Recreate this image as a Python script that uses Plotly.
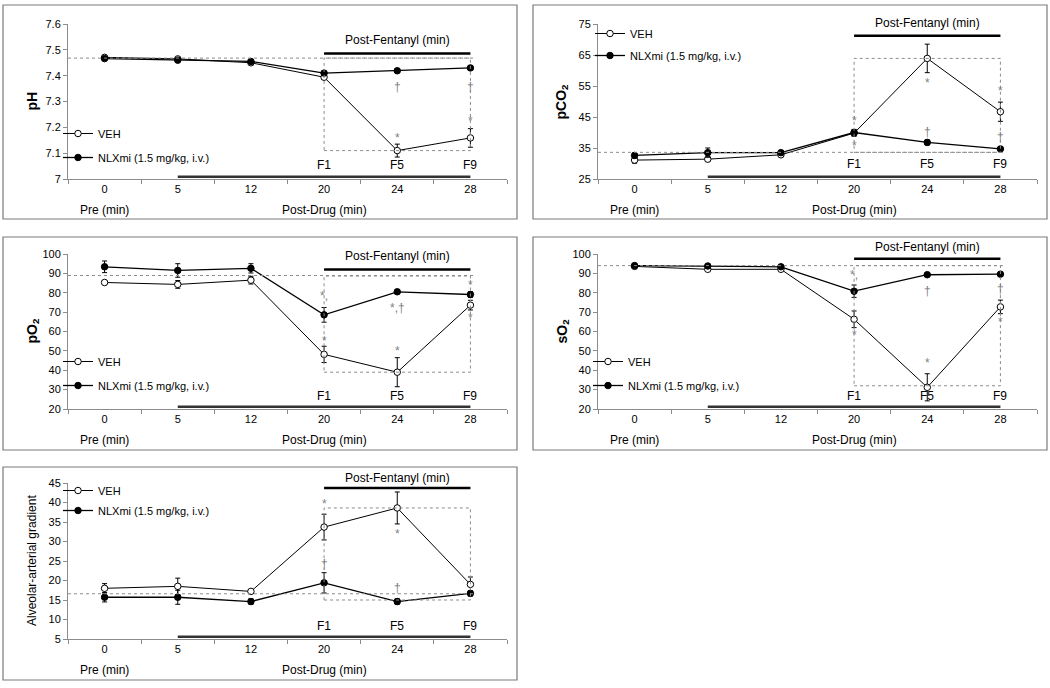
import plotly.graph_objects as go

CATEGORIES = ["0", "5", "12", "20", "24", "28"]
VEH_NAME = "VEH"
NLX_NAME = "NLXmi (1.5 mg/kg, i.v.)"

# ---- pH ----
ph_veh = [7.471, 7.465, 7.450, 7.394, 7.110, 7.159]
ph_veh_err = [0.004, 0.004, 0.004, 0.008, 0.025, 0.036]
ph_nlx = [7.466, 7.460, 7.455, 7.410, 7.419, 7.430]
ph_nlx_err = [0.004, 0.004, 0.004, 0.006, 0.006, 0.006]
ph_baseline = 7.468
ph_box = [7.110, 7.468]
ph_marks = [("24", 7.356, "†"), ("28", 7.356, "†"), ("24", 7.171, "*"), ("28", 7.235, "*")]

# ---- pCO2 ----
pco2_veh = [31.1, 31.4, 32.8, 39.8, 63.9, 46.7]
pco2_veh_err = [1.0, 0.8, 0.5, 1.0, 4.6, 3.1]
pco2_nlx = [32.6, 33.5, 33.5, 40.0, 36.8, 34.7]
pco2_nlx_err = [0.8, 1.5, 0.5, 1.0, 0.8, 0.6]
pco2_baseline = 33.6
pco2_box = [33.6, 63.9]
pco2_marks = [("20", 44.6, "*"), ("20", 36.7, "*"), ("24", 57.0, "*"), ("28", 54.3, "*"),
              ("24", 40.3, "†"), ("28", 38.7, "†")]

# ---- pO2 ----
po2_veh = [85.3, 84.3, 86.5, 48.2, 39.0, 73.6]
po2_veh_err = [1.0, 2.0, 2.0, 4.2, 7.5, 2.5]
po2_nlx = [93.4, 91.5, 92.6, 68.6, 80.5, 79.1]
po2_nlx_err = [3.0, 3.5, 2.4, 3.8, 1.0, 1.5]
po2_baseline = 88.9
po2_box = [39.0, 88.6]
po2_marks = [("20", 80.1, "*,"), ("20", 56.6, "*"), ("24", 73.9, "*,†"), ("24", 51.5, "*"),
             ("28", 85.7, "*"), ("28", 68.4, "*")]

# ---- sO2 ----
so2_veh = [93.6, 92.1, 92.1, 66.3, 31.2, 72.7]
so2_veh_err = [0.5, 0.6, 0.6, 4.3, 7.0, 3.5]
so2_nlx = [94.0, 93.8, 93.4, 80.8, 89.3, 89.6]
so2_nlx_err = [0.4, 0.4, 0.4, 3.2, 0.6, 0.6]
so2_baseline = 94.0
so2_box = [32.0, 94.0]
so2_marks = [("20", 90.8, "*,"), ("20", 59.8, "*"), ("24", 45.2, "*"), ("24", 80.8, "†"),
             ("28", 81.9, "†"), ("28", 66.3, "*")]

# ---- Alveolar-arterial gradient ----
aa_veh = [18.0, 18.5, 17.2, 33.7, 38.6, 19.0]
aa_veh_err = [1.2, 2.1, 0.5, 3.3, 4.1, 1.9]
aa_nlx = [15.7, 15.7, 14.6, 19.4, 14.6, 16.7]
aa_nlx_err = [1.2, 1.8, 0.7, 2.6, 0.7, 0.7]
aa_baseline = 16.6
aa_box = [15.0, 38.6]
aa_marks = [("20", 40.4, "*"), ("20", 24.3, "†"), ("24", 32.8, "*"), ("24", 18.1, "†")]

W, H = 1050, 688
FONT = "Liberation Sans, Arial, sans-serif"
GRAY = "#8c8c8c"


def fx(p):
    return p / W


def fy(p):
    return 1 - p / H


panels = [
    dict(veh=ph_veh, veh_err=ph_veh_err, nlx=ph_nlx, nlx_err=ph_nlx_err, base=ph_baseline,
         box=ph_box, marks=ph_marks, yrange=[7.0, 7.6], dtick=0.1, title="<b>pH</b>", tsize=14,
         plot=(68, 507, 24, 179), frame=(3, 517, 5, 219), fent_bar=0.81, fent_txt=0.895,
         flab=0.09, leg=(58, 119), leg_gap=5),
    dict(veh=pco2_veh, veh_err=pco2_veh_err, nlx=pco2_nlx, nlx_err=pco2_nlx_err, base=pco2_baseline,
         box=pco2_box, marks=pco2_marks, yrange=[25, 75], dtick=10, title="<b>pCO<sub>2</sub></b>", tsize=14,
         plot=(598, 1037, 24, 179), frame=(533, 1047, 5, 219), fent_bar=0.925, fent_txt=1.005,
         flab=0.10, leg=(590, 19), leg_gap=3),
    dict(veh=po2_veh, veh_err=po2_veh_err, nlx=po2_nlx, nlx_err=po2_nlx_err, base=po2_baseline,
         box=po2_box, marks=po2_marks, yrange=[20, 100], dtick=10, title="<b>pO<sub>2</sub></b>", tsize=14,
         plot=(68, 507, 254, 409), frame=(3, 517, 237, 450), fent_bar=0.90, fent_txt=0.99,
         flab=0.086, leg=(58, 347), leg_gap=5),
    dict(veh=so2_veh, veh_err=so2_veh_err, nlx=so2_nlx, nlx_err=so2_nlx_err, base=so2_baseline,
         box=so2_box, marks=so2_marks, yrange=[20, 100], dtick=10, title="<b>sO<sub>2</sub></b>", tsize=14,
         plot=(598, 1037, 254, 409), frame=(533, 1047, 237, 450), fent_bar=0.97, fent_txt=1.045,
         flab=0.086, leg=(588, 347), leg_gap=5),
    dict(veh=aa_veh, veh_err=aa_veh_err, nlx=aa_nlx, nlx_err=aa_nlx_err, base=aa_baseline,
         box=aa_box, marks=aa_marks, yrange=[5, 45], dtick=5, title="Alveolar-arterial gradient", tsize=12,
         plot=(68, 507, 483, 639), frame=(3, 517, 467, 680), fent_bar=0.968, fent_txt=1.034,
         flab=0.086, leg=(58, 476), leg_gap=1),
]

fig = go.Figure()
shapes = []
annotations = []
layout = {}


def note(**kw):
    kw.setdefault("showarrow", False)
    kw.setdefault("xanchor", "center")
    kw.setdefault("yanchor", "middle")
    annotations.append(kw)


for i, p in enumerate(panels, start=1):
    sx = "" if i == 1 else str(i)
    xr, yr = "x" + sx, "y" + sx
    leg = "legend" if i == 1 else "legend" + str(i)
    l, r, t, b = p["plot"]
    fl, fr, ft, fb = p["frame"]

    layout["xaxis" + sx] = dict(
        domain=[fx(l), fx(r)], anchor=yr, type="category", categoryorder="array",
        categoryarray=CATEGORIES, range=[-0.5, 5.5], tickson="boundaries", ticks="outside",
        ticklen=4, tickcolor=GRAY, showline=True, linecolor=GRAY, linewidth=1, showgrid=False,
        zeroline=False, automargin=False, tickfont=dict(family=FONT, size=11, color="black"),
        fixedrange=True)
    layout["yaxis" + sx] = dict(
        domain=[fy(b), fy(t)], anchor=xr, range=p["yrange"], tick0=p["yrange"][0], dtick=p["dtick"],
        ticks="outside", ticklen=4, tickcolor=GRAY, showline=True, linecolor=GRAY, linewidth=1,
        showgrid=False, zeroline=False, automargin=False,
        tickfont=dict(family=FONT, size=11, color="black"), fixedrange=True)

    lx, ly = p["leg"]
    layout[leg] = dict(x=fx(lx), y=fy(ly), xanchor="left", yanchor="top", bgcolor="rgba(0,0,0,0)",
                       font=dict(family=FONT, size=11, color="black"), tracegroupgap=p["leg_gap"],
                       itemwidth=30)

    fig.add_trace(go.Scatter(
        x=CATEGORIES, y=p["veh"], xaxis=xr, yaxis=yr, mode="lines+markers", name=VEH_NAME,
        legend=leg, legendgroup=f"veh{i}",
        line=dict(color="black", width=1),
        marker=dict(symbol="circle", size=6.5, color="white", line=dict(color="black", width=1)),
        error_y=dict(type="data", array=p["veh_err"], visible=True, color="black", thickness=1, width=2.5)))
    fig.add_trace(go.Scatter(
        x=CATEGORIES, y=p["nlx"], xaxis=xr, yaxis=yr, mode="lines+markers", name=NLX_NAME,
        legend=leg, legendgroup=f"nlx{i}",
        line=dict(color="black", width=1.3),
        marker=dict(symbol="circle", size=6.5, color="black", line=dict(color="black", width=1)),
        error_y=dict(type="data", array=p["nlx_err"], visible=True, color="black", thickness=1, width=2.5)))

    shapes.append(dict(type="rect", xref="paper", yref="paper", x0=fx(fl), x1=fx(fr), y0=fy(fb), y1=fy(ft),
                       line=dict(color="#7a7a7a", width=1.2), fillcolor="rgba(0,0,0,0)", layer="below"))
    shapes.append(dict(type="line", xref=xr + " domain", yref=yr, x0=0, x1=5.55 / 6, y0=p["base"], y1=p["base"],
                       line=dict(color=GRAY, width=1, dash="dot")))
    shapes.append(dict(type="rect", xref=xr, yref=yr, x0=3, x1=5, y0=p["box"][0], y1=p["box"][1],
                       line=dict(color=GRAY, width=1, dash="dot"), fillcolor="rgba(0,0,0,0)"))
    shapes.append(dict(type="line", xref=xr, yref=yr + " domain", x0=3, x1=5, y0=p["fent_bar"], y1=p["fent_bar"],
                       line=dict(color="black", width=2.5)))
    shapes.append(dict(type="line", xref=xr, yref=yr + " domain", x0=1, x1=5, y0=0.014, y1=0.014,
                       line=dict(color="#333333", width=2.5)))

    note(xref=xr, yref=yr + " domain", x=4, y=p["fent_txt"], text="Post-Fentanyl (min)",
         font=dict(family=FONT, size=12, color="black"))
    for k, lab in zip([3, 4, 5], ["F1", "F5", "F9"]):
        note(xref=xr, yref=yr + " domain", x=k, y=p["flab"], text=lab,
             font=dict(family=FONT, size=12, color="black"))
    note(xref=xr, yref="paper", x=0, y=fy(b + 31), text="Pre (min)",
         font=dict(family=FONT, size=12, color="black"))
    note(xref=xr, yref="paper", x=3, y=fy(b + 31), text="Post-Drug (min)",
         font=dict(family=FONT, size=12, color="black"))
    note(xref="paper", yref="paper", x=fx(l - 36), y=fy((t + b) / 2), text=p["title"], textangle=-90,
         font=dict(family=FONT, size=p["tsize"], color="black"))
    for cat, val, txt in p["marks"]:
        note(xref=xr, yref=yr, x=CATEGORIES.index(cat), y=val, text=txt,
             yshift=-3 if txt.startswith("*") else 0,
             font=dict(family=FONT, size=12, color="#7f7f7f"))

fig.update_layout(
    template="none",
    width=W, height=H, margin=dict(l=0, r=0, t=0, b=0, autoexpand=False),
    paper_bgcolor="white", plot_bgcolor="white", showlegend=True,
    shapes=shapes, annotations=annotations, **layout)

fig.write_html("out.html", config={"displayModeBar": False},
               post_script="document.body.style.margin='0';document.body.style.overflow='hidden';")
